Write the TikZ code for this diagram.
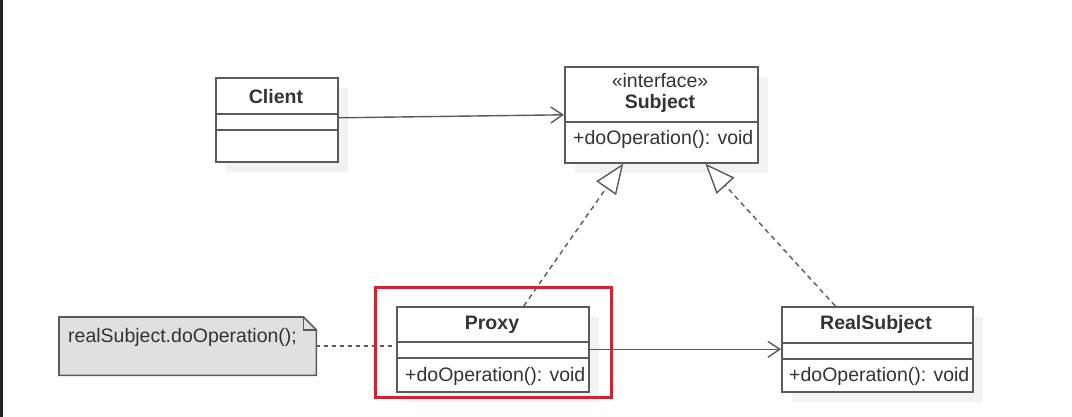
\documentclass[tikz,border=0pt]{standalone}
\usepackage{fontspec}
\setmainfont{Liberation Sans}
\usetikzlibrary{arrows.meta,shadows}

\definecolor{framedark}{HTML}{202327}
\definecolor{umlline}{HTML}{5A5A5A}
\definecolor{umltext}{HTML}{333333}
\definecolor{notefill}{HTML}{E0E0E0}
\definecolor{markred}{HTML}{E8182C}

\newcommand\umlfont{\fontsize{19.5}{23}\selectfont}

\tikzset{
  classbox/.style={draw=umlline, line width=1.6pt, fill=white, anchor=north west, inner sep=0pt,
    general shadow={fill=black!5, shadow xshift=10pt, shadow yshift=-10pt}},
  classname/.style={font=\umlfont\bfseries, text=umltext},
  member/.style={font=\umlfont, text=umltext, anchor=west, inner sep=0pt},
  sepline/.style={umlline, line width=1.6pt},
  assoc/.style={umlline, line width=1.4pt, -{Straight Barb[length=12pt,width=16pt]}},
  realize/.style={umlline, line width=1.4pt, dash pattern=on 5pt off 4pt,
    -{Triangle[open,length=30pt,width=24pt,fill=white]}},
}

\begin{document}
\begin{tikzpicture}[x=1pt,y=-1pt]
  \useasboundingbox (0,0) rectangle (1072,417);
  \fill[framedark] (0,0) rectangle (3,417);

  % classes
  \node[classbox, minimum width=122pt, minimum height=84pt] (client) at (215,77) {};
  \node[classbox, minimum width=193pt, minimum height=96pt] (subject) at (564,66) {};
  \node[classbox, minimum width=192pt, minimum height=85pt] (proxy) at (396,306) {};
  \node[classbox, minimum width=191pt, minimum height=85pt] (realsubject) at (781,306) {};

  \draw[sepline] (215,114) -- (337,114);
  \draw[sepline] (215,130) -- (337,130);
  \draw[sepline] (564,122) -- (757,122);
  \draw[sepline] (396,342) -- (588,342);
  \draw[sepline] (396,358) -- (588,358);
  \draw[sepline] (781,343) -- (972,343);
  \draw[sepline] (781,359) -- (972,359);

  \node[classname] (clientname) at (276,97) {Client};
  \node[font=\umlfont, text=umltext] (stereo) at (660,81) {«interface»};
  \node[classname] (subjectname) at (660,103) {Subject};
  \node[member] (subjectop) at (573,139) {+doOperation(): void};
  \node[classname] (proxyname) at (492,325) {Proxy};
  \node[member] (proxyop) at (405,376) {+doOperation(): void};
  \node[classname] (realname) at (876,324) {RealSubject};
  \node[member] (realop) at (789,376) {+doOperation(): void};

  % note
  \node[anchor=north west, inner sep=0pt, minimum width=257pt, minimum height=58pt] (note) at (59,317) {};
  \draw[umlline, line width=1.6pt, fill=notefill] (note.north west) -- ([xshift=-13pt]note.north east)
    -- ([yshift=-13pt]note.north east) -- (note.south east) -- (note.south west) -- cycle;
  \draw[umlline, line width=1.3pt] ([xshift=-13pt]note.north east) -- ([xshift=-13pt,yshift=-13pt]note.north east)
    -- ([yshift=-13pt]note.north east);
  \node[member] (notetext) at (68,337) {realSubject.doOperation();};

  % connectors
  \draw[assoc] ([yshift=2pt]client.east) -- (subject.west);
  \draw[assoc] (proxy.east) -- (realsubject.west);
  \draw[umlline, line width=1.6pt, dash pattern=on 4pt off 4pt] (note.east) -- (note.east -| proxy.west);
  \draw[realize] ([xshift=31pt]proxy.north) -- ([xshift=-38pt]subject.south);
  \draw[realize] ([xshift=-42pt]realsubject.north) -- ([xshift=44pt]subject.south);

  % highlight
  \draw[markred, line width=3pt] (375,287) rectangle (611,397);
\end{tikzpicture}
\end{document}
